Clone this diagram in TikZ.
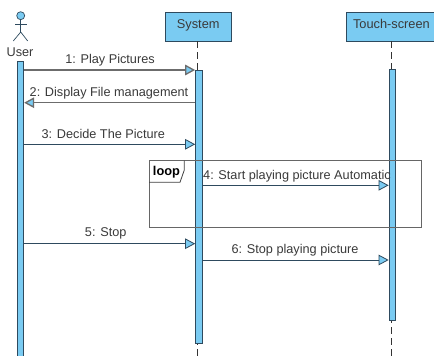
\documentclass[tikz,border=0pt]{standalone}
\usepackage{fontspec}
\setmainfont{Liberation Sans}
\usetikzlibrary{arrows.meta}
\definecolor{barblue}{HTML}{7ACBF2}
\definecolor{edgedark}{HTML}{2E4A5E}
\definecolor{textgrey}{HTML}{3A3A3A}
\tikzset{
  classbox/.style={draw=edgedark, fill=barblue, line width=0.8pt, inner sep=0pt, text=textgrey, text height=9pt, text depth=6pt, font=\fontsize{12.8}{14}\selectfont},
  bar/.style={draw=edgedark, fill=barblue, line width=0.8pt, inner sep=0pt, minimum width=6.5pt},
  msg/.style={draw=edgedark, line width=0.8pt, -{Triangle[length=10pt,width=10.5pt,fill=barblue]}},
  msggrey/.style={msg, draw=gray!85!black, line width=1.3pt},
  txt/.style={text=textgrey, inner sep=0pt, font=\fontsize{12.7}{14}\selectfont},
  life/.style={draw=black!80, line width=0.7pt, dash pattern=on 7pt off 4pt},
}
\begin{document}
\begin{tikzpicture}[x=1pt, y=-1pt]
  \useasboundingbox (0,0) rectangle (434,356);
  \clip (0,0) rectangle (434,356);
  \fill[white] (0,0) rectangle (434,356);

  % actor
  \draw[edgedark, fill=barblue, line width=0.7pt] (20.7,15.7) circle (4);
  \draw[edgedark, line width=0.7pt] (20.7,19.7) -- (20.7,32);
  \draw[edgedark, line width=0.7pt] (15,24.5) -- (27,24.5);
  \draw[edgedark, line width=0.7pt] (13.3,41) -- (20.7,32) -- (27.7,41);
  \node[txt] (user) at (20,52) {User};

  % heads
  \node[classbox, minimum width=65.7pt, minimum height=29pt] (system) at (198.2,26.5) {System};
  \node[classbox, minimum width=92pt, minimum height=29pt, text width=79.4pt, align=left] (touch) at (392.7,26.5) {Touch-screen};

  % lifelines
  \coordinate (sysend) at (197.5,356);
  \coordinate (touchend) at (391.8,356);
  \draw[life] (system.south -| sysend) -- (sysend);
  \draw[life] (touch.south -| touchend) -- (touchend);

  % bars
  \node[bar, minimum height=296pt, anchor=north] (userbar) at (20.5,60.7) {};
  \node[bar, minimum height=273pt, anchor=north] (sysbar) at (198.8,70) {};
  \node[bar, minimum height=251.3pt, anchor=north] (touchbar) at (392.3,69) {};

  % messages
  \coordinate (m1) at (0,70);
  \coordinate (m2) at (0,102.7);
  \coordinate (m3) at (0,144.3);
  \coordinate (m4) at (0,185.3);
  \coordinate (m5) at (0,243.7);
  \coordinate (m6) at (0,260);
  \draw[msggrey] (userbar.east |- m1) -- (sysbar.west |- m1);
  \draw[msggrey] (sysbar.west |- m2) -- (userbar.east |- m2);
  \draw[msg] (userbar.east |- m3) -- (sysbar.west |- m3);
  \draw[msg] (sysbar.east |- m4) -- (touchbar.west |- m4);
  \draw[msg] (userbar.east |- m5) -- (sysbar.west |- m5);
  \draw[msg] (sysbar.east |- m6) -- (touchbar.west |- m6);

  \node[txt] (lab1) at (110,60) {1: Play Pictures};
  \node[txt] (lab2) at (109,93) {2: Display File management};
  \node[txt] (lab3) at (103.3,134) {3: Decide The Picture};
  \node[txt, anchor=west] (lab4) at (203,176) {4: Start playing picture Automatic};
  \node[txt] (lab5) at (105.7,233) {5: Stop};
  \node[txt] (lab6) at (295,250) {6: Stop playing picture};

  % loop frame
  \draw[black!60, line width=0.9pt] (149,160.7) rectangle (421.3,227);
  \draw[black!75, line width=0.8pt] (184.3,160.7) -- (184.3,170) -- (180,182.3) -- (149,182.3);
  \node[inner sep=0pt, font=\fontsize{12.8}{14}\selectfont\bfseries] (loop) at (166.5,172) {loop};
\end{tikzpicture}
\end{document}
